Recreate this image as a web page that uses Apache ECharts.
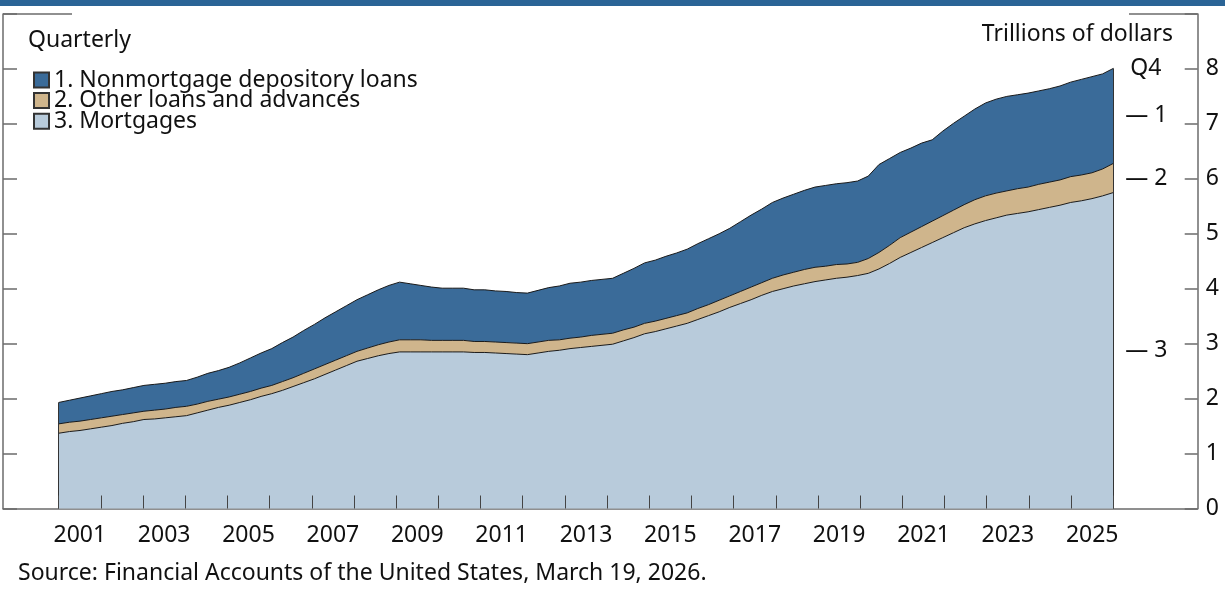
<!DOCTYPE html>
<html>
<head>
<meta charset="utf-8">
<script src="https://cdn.jsdelivr.net/npm/echarts@6/dist/echarts.min.js"></script>
<style>
  html, body { margin: 0; padding: 0; background: #fff; }
  #chart { width: 1225px; height: 594px; }
</style>
</head>
<body>
<div id="chart"></div>
<script>
// quarters 2001Q1 .. 2025Q4
var years = [];
var quarters = [];
for (var y = 2001; y <= 2025; y++) {
  years.push(String(y));
  for (var q = 1; q <= 4; q++) quarters.push(y + 'Q' + q);
}

// trillions of dollars
var mortgages = [1.37,1.40,1.42,1.45,1.48, 1.51,1.55,1.58,1.62, 1.63,1.65,1.67,1.69, 1.74,1.79,1.84,1.88,
  1.93,1.98,2.04,2.09, 2.15,2.22,2.29,2.36, 2.44,2.52,2.60,2.68, 2.73,2.78,2.82,2.85,
  2.85,2.85,2.85,2.85, 2.85,2.85,2.84,2.84, 2.83,2.82,2.81,2.80, 2.83,2.86,2.88,2.91,
  2.93,2.95,2.97,2.99, 3.05,3.11,3.18, 3.22,3.27,3.32,3.37, 3.44,3.51,3.58,3.66,
  3.73,3.80,3.88,3.95, 4.00,4.05,4.09,4.13, 4.16,4.19,4.21,4.24, 4.28,4.36,4.46,4.57,
  4.66,4.75,4.84,4.93, 5.02,5.11,5.18,5.24, 5.29,5.34,5.37,5.40, 5.44,5.48,5.52,5.57,
  5.60,5.64,5.69,5.75];
var otherLoans = [0.17,0.17,0.17,0.17,0.17, 0.17,0.16,0.16,0.15, 0.16,0.16,0.17,0.17, 0.16,0.16,0.15,0.15,
  0.15,0.15,0.15,0.15, 0.16,0.16,0.17,0.18, 0.18,0.18,0.18,0.18, 0.19,0.20,0.21,0.22,
  0.22,0.22,0.21,0.21, 0.21,0.21,0.20,0.20, 0.20,0.20,0.20,0.20, 0.20,0.20,0.19,0.19,
  0.19,0.20,0.20,0.20, 0.20,0.19,0.19, 0.19,0.19,0.19,0.19, 0.20,0.20,0.21,0.21,
  0.22,0.23,0.23,0.24, 0.25,0.25,0.26,0.26, 0.25,0.25,0.24,0.24, 0.27,0.30,0.33,0.36,
  0.37,0.38,0.39,0.40, 0.41,0.42,0.44,0.45, 0.45,0.44,0.45,0.45, 0.46,0.46,0.46,0.47,
  0.47,0.47,0.49,0.53];
var nonmortgage = [0.39,0.40,0.42,0.43,0.44, 0.45,0.45,0.46,0.47, 0.47,0.47,0.47,0.47, 0.49,0.51,0.52,0.54,
  0.57,0.61,0.64,0.67, 0.71,0.74,0.78,0.81, 0.85,0.88,0.91,0.94, 0.97,1.00,1.03,1.05,
  1.02,0.99,0.97,0.95, 0.95,0.95,0.94,0.94, 0.93,0.93,0.92,0.92, 0.94,0.96,0.98,1.00,
  1.00,1.00,1.00,1.00, 1.03,1.07,1.10, 1.11,1.13,1.14,1.16, 1.18,1.20,1.21,1.23,
  1.27,1.31,1.34,1.38, 1.40,1.42,1.44,1.46, 1.47,1.47,1.48,1.48, 1.50,1.60,1.58,1.55,
  1.53,1.52,1.48,1.54, 1.58,1.61,1.65,1.69, 1.71,1.72,1.71,1.71, 1.70,1.70,1.71,1.72,
  1.74,1.75,1.73,1.73];

var names = ['1. Nonmortgage depository loans', '2. Other loans and advances', '3. Mortgages'];
var colors = { non: '#3a6b99', other: '#cfb58c', mort: '#b8cbdb' };
var FONT = 'Noto Sans';
var FS = 23;
var axisGray = '#6b6b6b';

var chart = echarts.init(document.getElementById('chart'));

var first = 0, last = quarters.length - 1;
var total0 = mortgages[first] + otherLoans[first] + nonmortgage[first];
var totalN = mortgages[last] + otherLoans[last] + nonmortgage[last];

function areaSeries(name, data, color, extra) {
  var s = {
    name: name,
    type: 'line',
    xAxisIndex: 2,
    yAxisIndex: 2,
    stack: 'total',
    data: data,
    symbol: 'none',
    smooth: false,
    lineStyle: { color: '#1a1a1a', width: 1 },
    areaStyle: { color: color, opacity: 1 },
    itemStyle: { color: color, borderColor: '#333', borderWidth: 1 },
    emphasis: { disabled: true },
    silent: true,
    z: 3
  };
  for (var k in extra) s[k] = extra[k];
  return s;
}

chart.setOption({
  animation: false,
  textStyle: { fontFamily: FONT },
  grid: [
    { left: 3, right: 27.3, top: 14, bottom: 85.5 },
    { left: 58.7, right: 111.7, top: 14, bottom: 85.5 }
  ],
  legend: {
    orient: 'vertical',
    left: 28,
    top: 68.5,
    padding: [0, 5, 0, 5],
    itemWidth: 15,
    itemHeight: 15,
    itemGap: -2.4,
    icon: 'rect',
    selectedMode: false,
    data: names,
    textStyle: { fontSize: FS, color: '#111', fontFamily: FONT }
  },
  xAxis: [
    {
      type: 'value', gridIndex: 0, min: 0, max: 1,
      axisLine: { show: true, lineStyle: { color: axisGray, width: 1.5 } },
      axisTick: { show: false }, axisLabel: { show: false }, splitLine: { show: false }
    },
    {
      type: 'category', gridIndex: 1, data: years, boundaryGap: true,
      axisLine: { show: false },
      axisTick: { show: true, inside: true, length: 13, interval: 0, alignWithLabel: false,
        lineStyle: { color: '#444', width: 1 } },
      axisLabel: { interval: 1, fontSize: FS, color: '#111', margin: 15, fontFamily: FONT },
      splitLine: { show: false },
      z: 10
    },
    {
      type: 'category', gridIndex: 1, data: quarters, boundaryGap: false, show: false
    }
  ],
  yAxis: [
    {
      type: 'value', gridIndex: 0, position: 'left', min: 0, max: 9, interval: 1,
      axisLine: { show: true, lineStyle: { color: axisGray, width: 1.5 } },
      axisTick: { show: true, inside: true, length: 14, lineStyle: { color: axisGray, width: 1.5 } },
      axisLabel: { show: false }, splitLine: { show: false }
    },
    {
      type: 'value', gridIndex: 0, position: 'right', min: 0, max: 9, interval: 1,
      axisLine: { show: true, lineStyle: { color: axisGray, width: 1.5 } },
      axisTick: { show: true, inside: true, length: 13, lineStyle: { color: axisGray, width: 1.5 } },
      axisLabel: {
        fontSize: FS, color: '#111', margin: 8, fontFamily: FONT,
        formatter: function (v) { return v === 9 ? '' : String(v); }
      },
      splitLine: { show: false }
    },
    { type: 'value', gridIndex: 1, min: 0, max: 9, interval: 1, show: false }
  ],
  series: [
    areaSeries(names[2], mortgages, colors.mort, {
      markLine: {
        silent: true, symbol: 'none', label: { show: false },
        lineStyle: { color: '#333', width: 1, type: 'solid' },
        data: [
          [{ coord: [quarters[first], 0] }, { coord: [quarters[first], total0] }],
          [{ coord: [quarters[last], 0] }, { coord: [quarters[last], totalN] }]
        ]
      }
    }),
    areaSeries(names[1], otherLoans, colors.other, {}),
    areaSeries(names[0], nonmortgage, colors.non, {})
  ],
  graphic: [
    { type: 'rect', id: 'banner', shape: { x: 0, y: 0, width: 1225, height: 6 }, style: { fill: '#2a6496' } },
    { type: 'line', id: 'topL', shape: { x1: 3, y1: 14, x2: 72, y2: 14 }, style: { stroke: axisGray, lineWidth: 1.5 } },
    { type: 'line', id: 'topR', shape: { x1: 1129, y1: 14, x2: 1197.7, y2: 14 }, style: { stroke: axisGray, lineWidth: 1.5 } },
    { type: 'text', id: 'quarterly', left: 28, top: 29,
      style: { text: 'Quarterly', font: FS + 'px "' + FONT + '"', fill: '#111' } },
    { type: 'text', id: 'units', right: 52, top: 23,
      style: { text: 'Trillions of dollars', font: FS + 'px "' + FONT + '"', fill: '#111' } },
    { type: 'text', id: 'source', left: 18, top: 562,
      style: { text: 'Source: Financial Accounts of the United States, March 19, 2026.', font: FS + 'px "' + FONT + '"', fill: '#111' } }
  ]
});

// series end labels, placed at the middle of each band at the last quarter
var mEnd = mortgages[last], oEnd = otherLoans[last], nEnd = nonmortgage[last];
var endMarks = [
  { text: 'Q4', v: totalN, dx: 17 },
  { text: '\u2014 1', v: mEnd + oEnd + nEnd / 2, dx: 12 },
  { text: '\u2014 2', v: mEnd + oEnd / 2, dx: 12 },
  { text: '\u2014 3', v: mEnd / 2, dx: 12 }
];
var extra = endMarks.map(function (m, i) {
  var p = chart.convertToPixel({ seriesIndex: 0 }, [quarters[last], m.v]);
  return {
    type: 'text', id: 'end' + i, x: p[0] + m.dx, y: p[1],
    style: { text: m.text, font: FS + 'px "' + FONT + '"', fill: '#111', verticalAlign: 'middle' }
  };
});
chart.setOption({ graphic: extra });
</script>
</body>
</html>
